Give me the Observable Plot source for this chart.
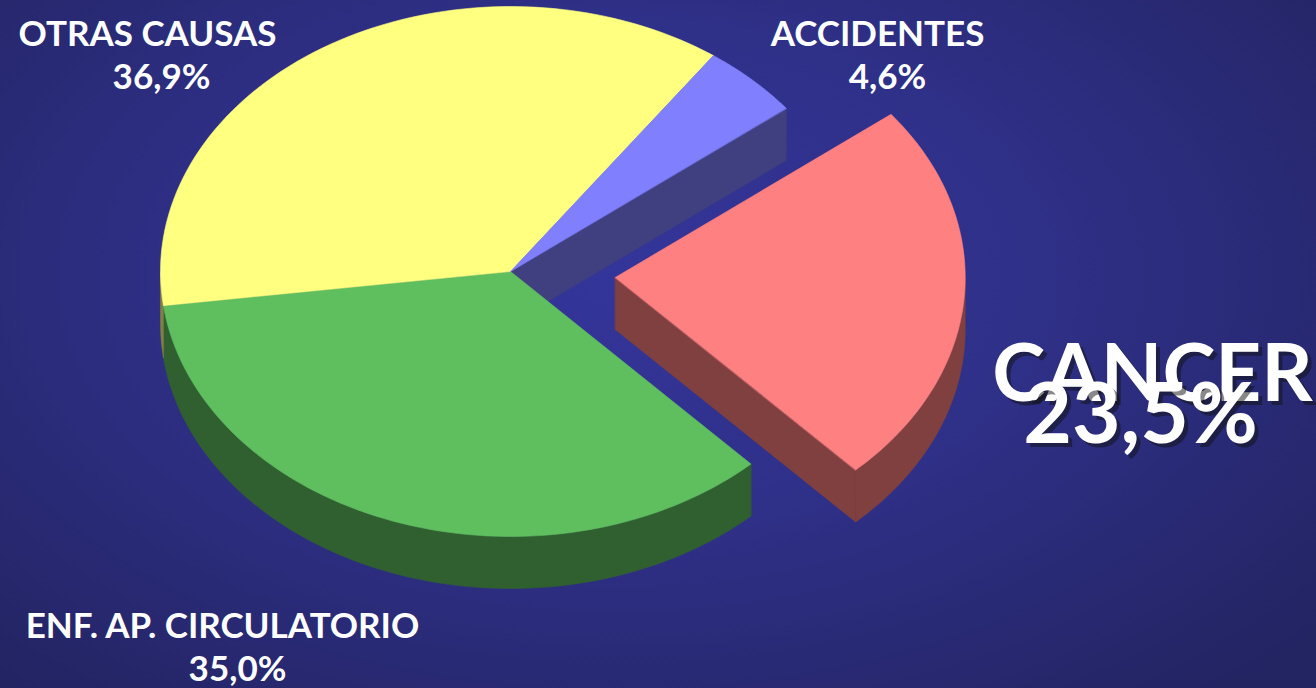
<!DOCTYPE html>
<html><head><meta charset="utf-8">
<script src="https://cdn.jsdelivr.net/npm/d3@7"></script>
<script src="https://cdn.jsdelivr.net/npm/@observablehq/plot@0.6"></script>
<style>
html,body{margin:0;padding:0;background:#25266c;}
#chart{width:1316px;height:688px;background:radial-gradient(ellipse 70% 80% at 47% 40%, #34359a 0%, #2f3088 45%, #232462 100%);}
#chart svg{display:block;}
</style></head><body><div id="chart"></div>
<script>
// ---- data ----
const categories = ["CANCER", "ENF. AP. CIRCULATORIO", "OTRAS CAUSAS", "ACCIDENTES"];
const values = [23.5, 35.0, 36.9, 4.6];
const valueLabels = ["23,5%", "35,0%", "36,9%", "4,6%"];
const topColors = ["#ff8080", "#5fbf5f", "#ffff80", "#8080ff"];
const exploded = [true, false, false, false];

// ---- layout ----
const W = 1316, H = 688;
const CX = 510, CY = 271, RX = 350, RY = 265, DEPTH = 52;
const START = -38 * Math.PI / 180;
const EXPLODE = 0.3;
const N = 80;

const total = d3.sum(values);
let acc = 0;
const slices = values.map((v, i) => {
  const a0 = START + acc / total * 2 * Math.PI;
  acc += v;
  const a1 = START + acc / total * 2 * Math.PI;
  const mid = (a0 + a1) / 2;
  const off = exploded[i] ? {x: RX * EXPLODE * Math.cos(mid), y: RY * EXPLODE * Math.sin(mid)} : {x: 0, y: 0};
  const c = d3.rgb(topColors[i]);
  const side = d3.rgb(c.r * 0.5, c.g * 0.5, c.b * 0.5).formatHex();
  return {i, a0, a1, off, top: topColors[i], side};
});

function pt(s, t, r, dz) {
  return {x: CX + s.off.x + RX * r * Math.cos(t), y: CY + s.off.y + RY * r * Math.sin(t) + dz};
}
function arc(s, t0, t1, dz) {
  const out = [];
  for (let k = 0; k <= N; k++) out.push(pt(s, t0 + (t1 - t0) * k / N, 1, dz));
  return out;
}
const polys = [];
// radial faces (only those next to an exploded slice), visible if facing viewer
slices.forEach((s, idx) => {
  const prev = slices[(idx + slices.length - 1) % slices.length];
  const next = slices[(idx + 1) % slices.length];
  const faces = [];
  if ((exploded[s.i] || exploded[prev.i]) && Math.cos(s.a0) < 0) faces.push(s.a0);
  if ((exploded[s.i] || exploded[next.i]) && Math.cos(s.a1) > 0) faces.push(s.a1);
  faces.forEach(t => {
    const c = pt(s, 0, 0, 0), e = pt(s, t, 1, 0);
    polys.push({order: 0, color: s.side, pts: [c, e, {x: e.x, y: e.y + DEPTH}, {x: c.x, y: c.y + DEPTH}]});
  });
});
// outer walls, front half only
slices.forEach(s => {
  for (const base of [-2 * Math.PI, 0, 2 * Math.PI]) {
    const t0 = Math.max(s.a0, base), t1 = Math.min(s.a1, base + Math.PI);
    if (t1 > t0) {
      const topArc = arc(s, t0, t1, 0), botArc = arc(s, t0, t1, DEPTH).reverse();
      polys.push({order: 1, color: s.side, pts: topArc.concat(botArc)});
    }
  }
});
// tops
slices.forEach(s => {
  polys.push({order: 2, color: s.top, pts: [pt(s, 0, 0, 0)].concat(arc(s, s.a0, s.a1, 0))});
});
polys.sort((a, b) => a.order - b.order);

const marks = polys.map(p => Plot.line(p.pts, {x: "x", y: "y", curve: "linear-closed", fill: p.color, stroke: p.color, strokeWidth: 0.6}));

// labels (layout positions)
const labelLayout = [
  {name: [1152, 400, 80], value: [1140, 442, 84]},
  {name: [222, 637, 35], value: [237, 680, 35]},
  {name: [147, 45, 35], value: [161, 88, 35]},
  {name: [877, 45, 35], value: [887, 88, 35]}
];
const FONT = "Lato, 'Open Sans', sans-serif";
function textMarks(str, [x, y, fs], shadow) {
  const d = [{x, y, t: str}];
  const ms = [];
  if (shadow) ms.push(Plot.text(d, {x: "x", y: "y", text: "t", dx: 4, dy: 4, fill: "#111", fillOpacity: 0.5, fontSize: fs, fontWeight: "bold", fontFamily: FONT, textAnchor: "middle", lineAnchor: "bottom"}));
  ms.push(Plot.text(d, {x: "x", y: "y", text: "t", fill: "white", fontSize: fs, fontWeight: "bold", fontFamily: FONT, textAnchor: "middle", lineAnchor: "bottom"}));
  return ms;
}
categories.forEach((c, i) => {
  const big = exploded[i];
  marks.push(...textMarks(c, labelLayout[i].name, big));
  marks.push(...textMarks(valueLabels[i], labelLayout[i].value, big));
});

const chart = Plot.plot({
  width: W, height: H, margin: 0,
  x: {domain: [0, W], range: [0, W], axis: null},
  y: {domain: [0, H], range: [0, H], axis: null},
  style: {background: "transparent", overflow: "visible"},
  marks
});
document.getElementById("chart").appendChild(chart);
</script>
</body></html>
